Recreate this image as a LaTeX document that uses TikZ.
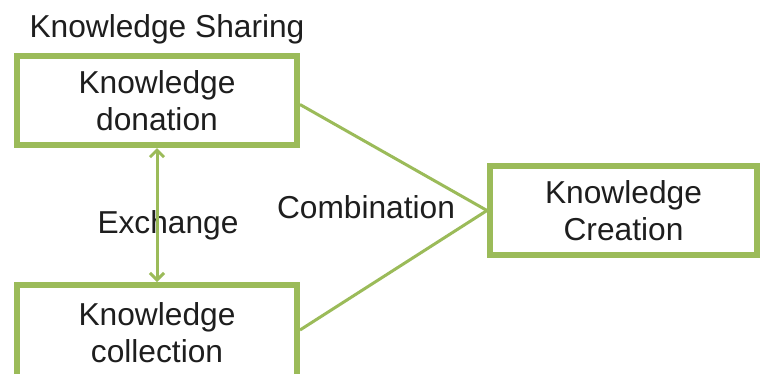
\documentclass[tikz,border=0pt]{standalone}
\usepackage{fontspec}
\setmainfont{Liberation Sans}
\usetikzlibrary{arrows.meta, positioning, calc}
\definecolor{boxgreen}{HTML}{9BBB59}
\definecolor{textgray}{HTML}{1E1E1E}
\tikzset{
  block/.style = {draw=boxgreen, line width=6pt, align=center, text=textgray,
    minimum width=280pt, minimum height=89pt, font=\fontsize{31.7}{37}\selectfont},
  link/.style = {draw=boxgreen, line width=3pt},
  lbl/.style = {anchor=base, text=textgray, font=\fontsize{31.7}{37}\selectfont}
}

\begin{document}
\begin{tikzpicture}[x=1pt, y=-1pt]
    \useasboundingbox (0,0) rectangle (761,373);

    \node[lbl] (sharing) at (167,37) {Knowledge Sharing};

    \node[block] (donation) at (157,100.5) {Knowledge\\donation};
    \node[block, minimum height=96pt, below=134pt of donation] (collection) {Knowledge\\collection};
    \node[block, minimum width=267pt] (creation) at (623.5,210.5) {Knowledge\\Creation};

    \node[lbl] (exchange) at (168,233) {Exchange};
    \node[lbl] (combination) at (366,218) {Combination};

    \draw[link, {Straight Barb[length=7pt,width=14pt]}-{Straight Barb[length=7pt,width=14pt]}]
      (donation.south) -- (collection.north);

    \draw[link] ($(donation.east)+(0,4)$) -- (creation.west);
    \draw[link] ($(collection.east)+(0,-3)$) -- (creation.west);

  \end{tikzpicture}
\end{document}
